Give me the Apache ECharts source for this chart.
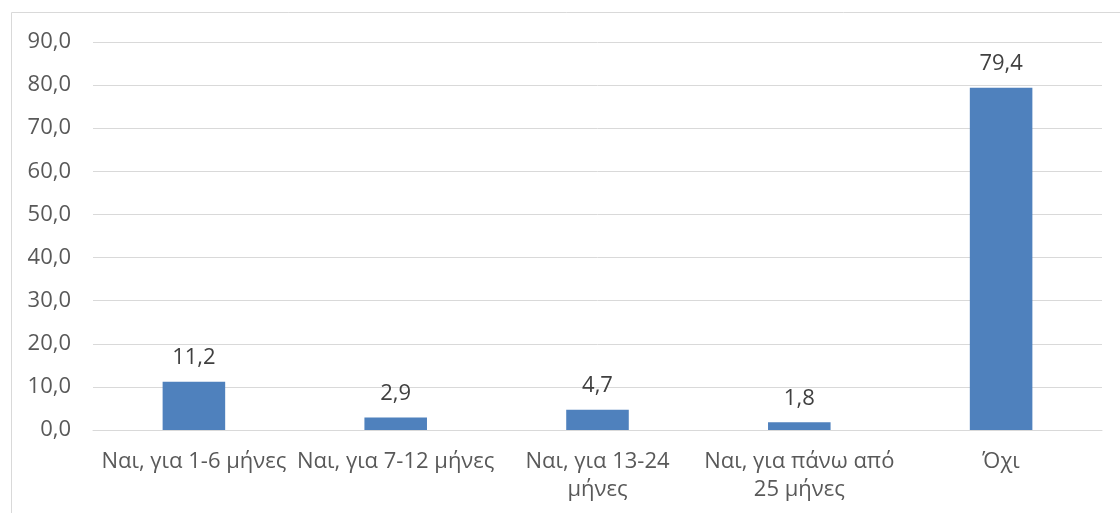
<!DOCTYPE html>
<html><head><meta charset="utf-8">
<script src="https://cdn.jsdelivr.net/npm/echarts@6/dist/echarts.min.js"></script>
<style>html,body{margin:0;padding:0;background:#fff}#c{width:1120px;height:513px}</style>
</head><body><div id="c"></div>
<script>
const categories = ["Ναι, για 1-6 μήνες", "Ναι, για 7-12 μήνες", "Ναι, για 13-24\nμήνες", "Ναι, για πάνω από\n25 μήνες", "Όχι"];
const values = [11.2, 2.9, 4.7, 1.8, 79.4];
const yTicks = [0, 90, 10];
const fmt = v => v.toFixed(1).replace('.', ',');
const font = "'Open Sans', 'Noto Sans', sans-serif";
const chart = echarts.init(document.getElementById('c'));
chart.setOption({
  animation: false,
  graphic: [{type: 'rect', shape: {x: 11.5, y: 12.5, width: 1200, height: 600}, style: {fill: 'none', stroke: '#d9d9d9', lineWidth: 1}, silent: true}],
  grid: {left: 93, right: 18, top: 42, bottom: 83},
  xAxis: {
    type: 'category', data: categories,
    axisLine: {show: true, lineStyle: {color: '#d9d9d9', width: 1}},
    axisTick: {show: false},
    axisLabel: {color: '#595959', fontSize: 22, fontFamily: font, margin: 18, lineHeight: 28, interval: 0}
  },
  yAxis: {
    type: 'value', min: yTicks[0], max: yTicks[1], interval: yTicks[2],
    axisLine: {show: false}, axisTick: {show: false},
    splitLine: {lineStyle: {color: '#d9d9d9', width: 1}},
    axisLabel: {color: '#595959', fontSize: 22, fontFamily: font, margin: 22, formatter: fmt}
  },
  series: [{
    type: 'bar', data: values, barWidth: '31%',
    itemStyle: {color: '#4f81bd'},
    label: {show: true, position: 'top', distance: 13, color: '#404040', fontSize: 22, fontFamily: font, formatter: p => fmt(p.value)}
  }]
});
</script></body></html>
